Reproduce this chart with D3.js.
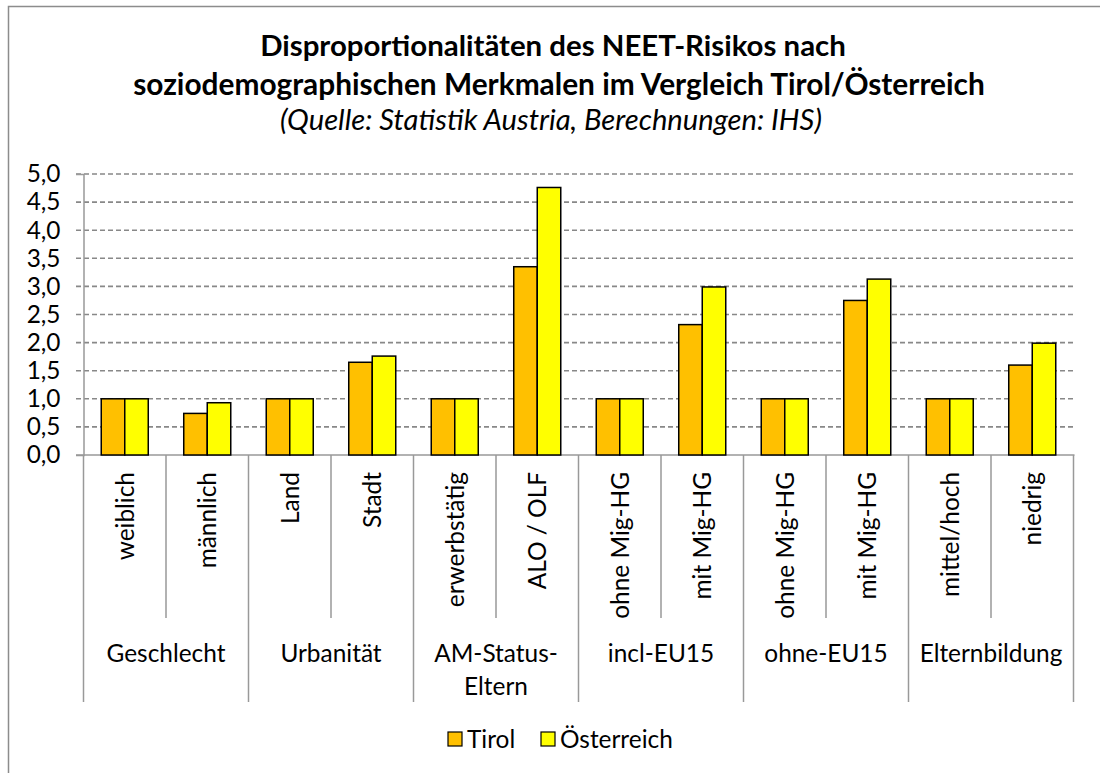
<!DOCTYPE html>
<html>
<head>
<meta charset="utf-8">
<script src="https://cdn.jsdelivr.net/npm/d3@7"></script>
<style>
  html, body { margin: 0; padding: 0; background: #fff; }
  svg { display: block; font-family: Lato, "Open Sans", sans-serif; }
</style>
</head>
<body>
<svg id="chart" width="1100" height="773"></svg>
<script>
// ---- data ----
const categories = ["weiblich", "männlich", "Land", "Stadt", "erwerbstätig", "ALO / OLF",
                    "ohne Mig-HG", "mit Mig-HG", "ohne Mig-HG", "mit Mig-HG", "mittel/hoch", "niedrig"];
const groups = [["Geschlecht"], ["Urbanität"], ["AM-Status-", "Eltern"], ["incl-EU15"], ["ohne-EU15"], ["Elternbildung"]];
const seriesNames = ["Tirol", "Österreich"];
const tirol = [1.0, 0.74, 1.0, 1.65, 1.0, 3.35, 1.0, 2.32, 1.0, 2.75, 1.0, 1.60];
const oesterreich = [1.0, 0.93, 1.0, 1.76, 1.0, 4.76, 1.0, 2.99, 1.0, 3.13, 1.0, 1.99];
const yTicks = [0, 0.5, 1, 1.5, 2, 2.5, 3, 3.5, 4, 4.5, 5];
const titleLines = ["Disproportionalitäten des NEET-Risikos nach",
                    "soziodemographischen Merkmalen im Vergleich Tirol/Österreich"];
const subtitle = "(Quelle: Statistik Austria, Berechnungen: IHS)";
const colors = ["#FFC000", "#FFFF00"];

const series = [tirol, oesterreich];

// ---- layout ----
const svg = d3.select("#chart");
const pLeft = 83.5, pRight = 1073.5, pTop = 174, pBottom = 455;

svg.append("rect").attr("x", 0).attr("y", 0).attr("width", 1100).attr("height", 773).attr("fill", "#fff");
svg.append("rect").attr("x", 8.5).attr("y", 6.5).attr("width", 1200).attr("height", 1000)
  .attr("fill", "none").attr("stroke", "#8c8c8c").attr("stroke-width", 1.5);

const x = d3.scaleBand().domain(d3.range(categories.length)).range([pLeft, pRight]).paddingInner(0).paddingOuter(0);
const xs = d3.scaleBand().domain(d3.range(seriesNames.length)).range([0, x.bandwidth()]).paddingInner(0).paddingOuter(0.755);
const y = d3.scaleLinear().domain([0, 5]).range([pBottom, pTop]);

// fit helper
function fit(sel, target) {
  const n = sel.node();
  const w = n.getComputedTextLength();
  const fs = parseFloat(sel.attr("font-size"));
  sel.attr("font-size", fs * target / w);
  return fs * target / w;
}

// measure a common label font size (Calibri-like width)
const probe = svg.append("text").attr("font-size", 20).text("Geschlecht");
const FS = fit(probe, 119);
probe.remove();

// title
const t1 = svg.append("text").attr("x", 553).attr("y", 56).attr("text-anchor", "middle")
  .attr("font-weight", "bold").attr("font-size", 26).attr("fill", "#000").text(titleLines[0]);
fit(t1, 586);
const t2 = svg.append("text").attr("x", 559).attr("y", 95).attr("text-anchor", "middle")
  .attr("font-weight", "bold").attr("font-size", 26).attr("fill", "#000").text(titleLines[1]);
fit(t2, 852);
const t3 = svg.append("text").attr("x", 551).attr("y", 130).attr("text-anchor", "middle")
  .attr("font-style", "italic").attr("font-size", 22).attr("fill", "#000").text(subtitle);
fit(t3, 542);

// gridlines
svg.append("g").selectAll("line").data(yTicks.filter(d => d > 0)).join("line")
  .attr("x1", 76).attr("x2", pRight).attr("y1", d => y(d)).attr("y2", d => y(d))
  .attr("stroke", "#888").attr("stroke-width", 1.6).attr("stroke-dasharray", "5,3");

// y axis via d3
const yAxis = d3.axisLeft(y).tickValues(yTicks).tickSize(7.5)
  .tickFormat(d => d3.format(".1f")(d).replace(".", ","));
const gy = svg.append("g").attr("transform", `translate(${pLeft},0)`).call(yAxis);
gy.select(".domain").attr("stroke", "#999").attr("stroke-width", 1.5);
gy.selectAll(".tick line").attr("stroke", d => d === 0 ? "#999" : "none");
gy.selectAll(".tick text").attr("font-size", FS).attr("font-family", "Lato, 'Open Sans', sans-serif")
  .attr("fill", "#000").attr("x", -23);

// x axis baseline
svg.append("line").attr("x1", 76).attr("x2", pRight + 1).attr("y1", pBottom).attr("y2", pBottom)
  .attr("stroke", "#999").attr("stroke-width", 1.5);

// category separators
const bounds = d3.range(categories.length + 1);
svg.append("g").selectAll("line").data(bounds).join("line")
  .attr("x1", i => i < categories.length ? x(i) : pRight)
  .attr("x2", i => i < categories.length ? x(i) : pRight)
  .attr("y1", pBottom)
  .attr("y2", i => i % 2 === 0 ? 702 : 618)
  .attr("stroke", "#999").attr("stroke-width", 1.5);

// bars
const gBars = svg.append("g");
series.forEach((vals, si) => {
  gBars.selectAll(null).data(vals).join("rect")
    .attr("x", (d, i) => x(i) + xs(si))
    .attr("y", d => y(d))
    .attr("width", xs.bandwidth())
    .attr("height", d => y(0) - y(d))
    .attr("fill", colors[si]).attr("stroke", "#000").attr("stroke-width", 1.5);
});

// category labels (rotated)
svg.append("g").selectAll("text").data(categories).join("text")
  .attr("transform", (d, i) => `translate(${x(i) + x.bandwidth() / 2},472) rotate(-90)`)
  .attr("text-anchor", "end").attr("dy", "0.36em")
  .attr("font-size", FS).attr("fill", "#000").text(d => d);

// group labels
const gw = x.bandwidth() * 2;
groups.forEach((lines, gi) => {
  const cx = pLeft + gw * gi + gw / 2;
  lines.forEach((ln, li) => {
    svg.append("text").attr("x", cx).attr("y", 662 + li * 33).attr("text-anchor", "middle")
      .attr("font-size", FS).attr("fill", "#000").text(ln);
  });
});

// legend
const legX = [448, 541];
seriesNames.forEach((name, i) => {
  svg.append("rect").attr("x", legX[i]).attr("y", 732).attr("width", 14).attr("height", 14)
    .attr("fill", colors[i]).attr("stroke", "#000").attr("stroke-width", 1.2);
  svg.append("text").attr("x", legX[i] + 19).attr("y", 748).attr("font-size", FS).attr("fill", "#000").text(name);
});
</script>
</body>
</html>
